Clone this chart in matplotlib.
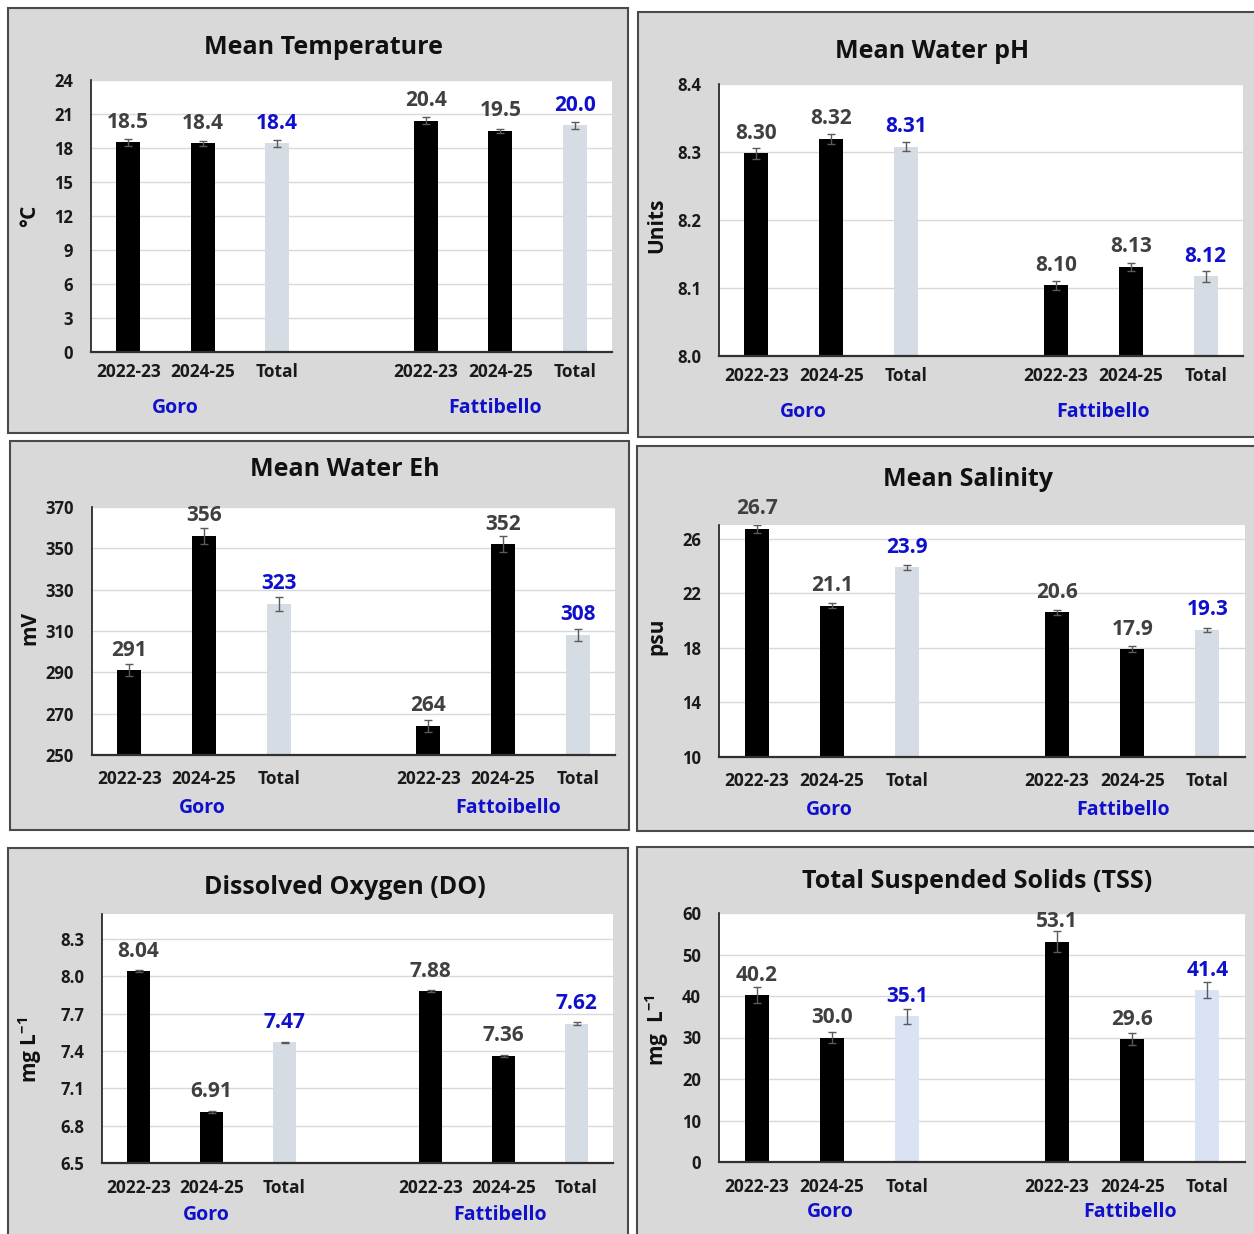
import matplotlib
matplotlib.use("Agg")
import matplotlib.pyplot as plt
from matplotlib.patches import Rectangle
import numpy as np

FONT = ['Open Sans', 'DejaVu Sans']
plt.rcParams['font.family'] = FONT
plt.rcParams['font.weight'] = 'bold'
plt.rcParams['mathtext.fontset'] = 'custom'
plt.rcParams['mathtext.rm'] = 'Open Sans:bold'
plt.rcParams['mathtext.bf'] = 'Open Sans:bold'
plt.rcParams['mathtext.it'] = 'Open Sans:bold'

# ---------------- data ----------------
categories = ['2022-23', '2024-25', 'Total', '2022-23', '2024-25', 'Total']
positions = [0, 1, 2, 4, 5, 6]
sites = ['Goro', 'Fattibello']
sites_eh = ['Goro', 'Fattoibello']

temp_mean = [18.5, 18.4, 18.4, 20.4, 19.5, 20.0]
temp_err = [0.3, 0.25, 0.3, 0.3, 0.2, 0.3]

ph_mean = [8.298, 8.319, 8.308, 8.104, 8.131, 8.117]
ph_err = [0.008, 0.007, 0.007, 0.007, 0.006, 0.008]

eh_mean = [291, 356, 323, 264, 352, 308]
eh_err = [3, 4, 3.5, 3, 4, 3]

sal_mean = [26.7, 21.1, 23.9, 20.6, 17.9, 19.3]
sal_err = [0.3, 0.2, 0.2, 0.2, 0.2, 0.15]

do_mean = [8.04, 6.91, 7.47, 7.88, 7.36, 7.62]
do_err = [0.008, 0.008, 0.005, 0.008, 0.005, 0.01]

tss_mean = [40.2, 30.0, 35.1, 53.1, 29.6, 41.4]
tss_err = [1.9, 1.4, 1.8, 2.6, 1.5, 2.0]

# ---------------- layout ----------------
W, H = 1254, 1234
fig = plt.figure(figsize=(W / 100, H / 100), dpi=100)
fig.patch.set_facecolor('white')

BLUE = '#1010CC'
DARK = '#404040'


def fx(x):
    return x / W


def fy(y):
    return 1 - y / H


def panel(box, plot, title, title_xy, ylabel, ylabel_xy, means, errs, ylim,
          yticks, ytick_fmt, val_fmt, groups, group_xy, total_color, xpad):
    bx0, by0, bx1, by1 = box
    fig.add_artist(Rectangle((fx(bx0), fy(by1)), fx(bx1 - bx0), (by1 - by0) / H,
                             transform=fig.transFigure, facecolor='#d9d9d9',
                             edgecolor='#4a4a4a', linewidth=1.5, zorder=0))
    px0, py0, px1, py1 = plot
    ax = fig.add_axes([fx(px0), fy(py1), fx(px1 - px0), (py1 - py0) / H])
    ax.set_facecolor('white')
    ax.set_zorder(1)
    colors = ['black', 'black', total_color, 'black', 'black', total_color]
    ax.bar(positions, means, width=0.32, color=colors, zorder=2)
    ax.errorbar(positions, means, yerr=errs, fmt='none', ecolor='#5a5a5a',
                elinewidth=1.0, capsize=3, capthick=1.0, zorder=3)
    for i, (p, m) in enumerate(zip(positions, means)):
        c = BLUE if i in (2, 5) else DARK
        ax.annotate(val_fmt.format(m), (p, m), xytext=(0, 14.5),
                    textcoords='offset points', ha='center', va='center',
                    fontsize=15, fontweight='bold', color=c,
                    annotation_clip=False, zorder=4)
    ax.set_xlim(-0.5, 6.5)
    ax.set_ylim(*ylim)
    ax.set_yticks(yticks)
    ax.set_yticklabels([ytick_fmt.format(t) for t in yticks])
    ax.set_xticks(positions)
    ax.set_xticklabels(categories)
    ax.tick_params(axis='y', length=0, pad=13, labelsize=12, labelcolor='#1a1a1a')
    ax.tick_params(axis='x', length=0, pad=xpad, labelsize=12.5, labelcolor='#1a1a1a')
    for lab in ax.get_xticklabels() + ax.get_yticklabels():
        lab.set_fontweight('bold')
    ax.grid(axis='y', color='#d9d9d9', linewidth=1.0, zorder=0)
    ax.set_axisbelow(True)
    for s in ('top', 'right'):
        ax.spines[s].set_visible(False)
    ax.spines['left'].set_color('#1a1a1a')
    ax.spines['left'].set_linewidth(1.2)
    ax.spines['bottom'].set_color('#303030')
    ax.spines['bottom'].set_linewidth(1.6)
    fig.text(fx(title_xy[0]), fy(title_xy[1]), title, ha='center', va='center',
             fontsize=18, fontweight='bold', color='#111111')
    fig.text(fx(ylabel_xy[0]), fy(ylabel_xy[1]), ylabel, ha='center', va='center',
             rotation=90, fontsize=15, fontweight='bold', color='#111111')
    for g, (gx, gy) in zip(groups, group_xy):
        fig.text(fx(gx), fy(gy), g, ha='center', va='center', fontsize=14,
                 fontweight='bold', color=BLUE)
    return ax


panel((8, 8, 628, 433), (91, 80, 612, 352), 'Mean Temperature', (324, 48),
      '°C', (30, 216), temp_mean, temp_err, (0, 24), list(range(0, 25, 3)),
      '{:d}', '{:.1f}', sites, [(175, 408), (495, 408)], '#d6dce4', 8)

panel((638, 12, 1262, 437), (719, 84, 1243, 356), 'Mean Water pH', (932, 52),
      'Units', (657, 225), ph_mean, ph_err, (8.0, 8.4), [8.0, 8.1, 8.2, 8.3, 8.4],
      '{:.1f}', '{:.2f}', sites, [(803, 412), (1103, 412)], '#d6dce4', 8)

panel((10, 441, 629, 830), (92, 507, 615, 755), 'Mean Water Eh', (345, 469),
      'mV', (30, 628), eh_mean, eh_err, (250, 370), list(range(250, 371, 20)),
      '{:d}', '{:.0f}', sites_eh, [(202, 808), (508, 808)], '#d6dce4', 11)

panel((637, 446, 1262, 831), (719, 525, 1245, 757), 'Mean Salinity', (968, 480),
      'psu', (657, 636), sal_mean, sal_err, (10, 27), [10, 14, 18, 22, 26],
      '{:d}', '{:.1f}', sites, [(829, 810), (1123, 810)], '#d6dce4', 11)

panel((8, 848, 628, 1242), (102, 914, 613, 1163), 'Dissolved Oxygen (DO)', (345, 887),
      r'mg L$^{-1}$', (30, 1050), do_mean, do_err, (6.5, 8.5),
      [6.5, 6.8, 7.1, 7.4, 7.7, 8.0, 8.3],
      '{:.1f}', '{:.2f}', sites, [(206, 1215), (500, 1215)], '#d6dce4', 11.5)

panel((637, 847, 1262, 1242), (719, 913, 1245, 1162), 'Total Suspended Solids (TSS)', (977, 882),
      r'mg  L$^{-1}$', (657, 1030), tss_mean, tss_err, (0, 60), list(range(0, 61, 10)),
      '{:d}', '{:.1f}', sites, [(830, 1212), (1130, 1212)], '#dae3f3', 11.5)

fig.savefig('out.png', dpi=100, facecolor='white')
